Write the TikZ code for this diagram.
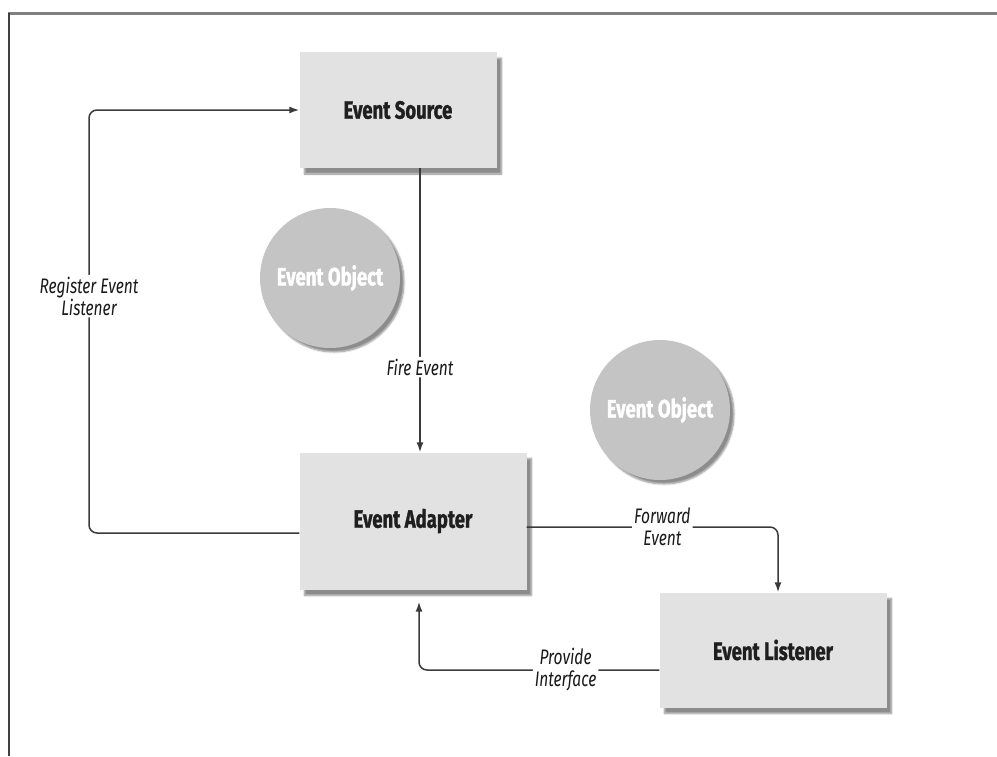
\documentclass[tikz,border=0pt]{standalone}
\usepackage{fontspec}
\usetikzlibrary{arrows.meta,shadows.blur}
\newfontfamily\boxfont[FakeStretch=0.74, BoldFeatures={FakeBold=1.2}]{Fira Sans}
\definecolor{boxgray}{HTML}{E2E2E2}
\definecolor{ballgray}{HTML}{C4C4C4}
\definecolor{linegray}{HTML}{3A3A3A}
\tikzset{
    box/.style={fill=boxgray, minimum width=197pt, minimum height=116pt, inner sep=0pt,
        font=\boxfont\bfseries\fontsize{25}{28}\selectfont, text=black!88,
        blur shadow={shadow xshift=5pt, shadow yshift=-6pt, shadow blur steps=6, shadow opacity=45}},
    ball/.style={circle, fill=ballgray, minimum size=140pt, inner sep=0pt,
        font=\boxfont\bfseries\fontsize{25}{28}\selectfont, text=white,
        blur shadow={shadow xshift=4pt, shadow yshift=-4pt, shadow blur steps=6, shadow opacity=45}},
    conn/.style={draw=linegray, line width=1.5pt, rounded corners=8pt, -{Latex[length=10pt,width=7pt]}},
    lbl/.style={fill=white, inner sep=2pt, align=center, text=black!90,
        font=\boxfont\itshape\fontsize{21}{22}\selectfont}
}
\begin{document}
\begin{tikzpicture}[x=1pt, y=-1pt]
    \useasboundingbox (0,0) rectangle (997,756);
    %frame
    \draw[line width=3pt, gray] (8,13) -- (997,13);
    \draw[line width=2.2pt, black!75] (9,13) -- (9,756);

    %boxes
    \node[box] (source) at(398,110) {Event Source};
    \node[box, minimum width=227pt, minimum height=137pt] (adapter) at(413,521) {Event Adapter};
    \node[box, minimum width=227pt, minimum height=115pt] (listener) at(773,650) {Event Listener};
    \node[ball] (objA) at(330,278) {Event Object};
    \node[ball] (objB) at(660,410) {Event Object};

    %bends
    \coordinate (regbend) at(89,533);
    \coordinate (firex) at(420,0);
    \coordinate (fwdbend) at(778,527);
    \coordinate (provbend) at(419,670);

    \draw[conn] ([yshift=-12pt]adapter.west) -- (regbend)
        -- node[lbl, pos=0.56] {Register Event\\Listener} (regbend |- source.west) -- (source.west);
    \draw[conn] (source.south -| firex) -- node[lbl, pos=0.7] {Fire Event} (adapter.north -| firex);
    \draw[conn] ([yshift=-6pt]adapter.east) -- node[lbl, pos=0.54] {Forward\\Event} (fwdbend)
        -- (listener.north -| fwdbend);
    \draw[conn] ([yshift=-20pt]listener.west) -- node[lbl, pos=0.39] {Provide\\Interface} (provbend)
        -- ([yshift=-12pt]adapter.south -| provbend);
\end{tikzpicture}
\end{document}
